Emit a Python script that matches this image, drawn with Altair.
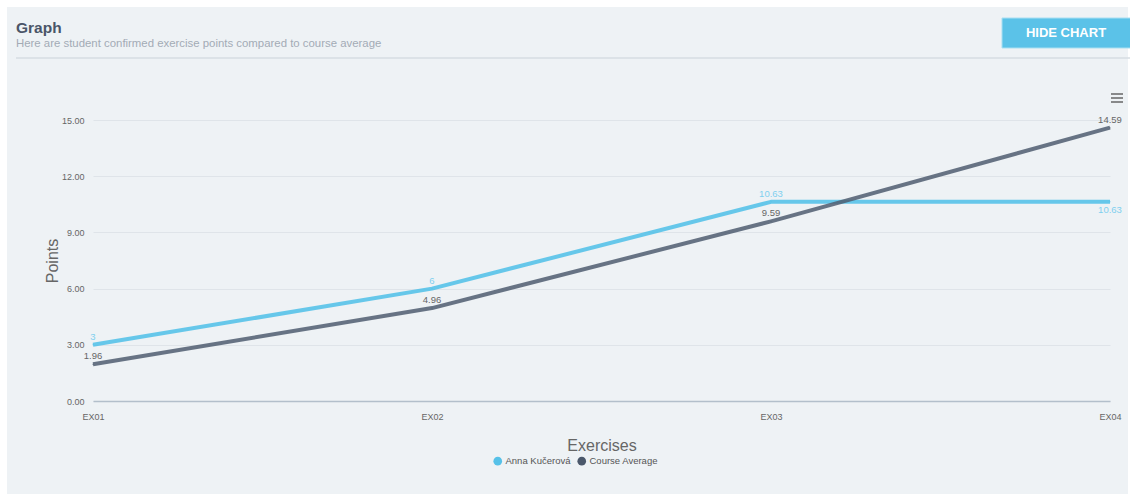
import altair as alt
import pandas as pd

# Exercise points per student vs. course average
exercises = ["EX01", "EX02", "EX03", "EX04"]
student_name = "Anna Kučerová"
student_points = [3, 6, 10.63, 10.63]
average_name = "Course Average"
average_points = [1.96, 4.96, 9.59, 14.59]
y_ticks = [0, 3, 6, 9, 12, 15]

rows = []
for name, values in [(student_name, student_points), (average_name, average_points)]:
    for ex, v in zip(exercises, values):
        rows.append({"series": name, "exercise": ex, "points": v, "label": f"{v:g}"})
df = pd.DataFrame(rows)

FONT = "Liberation Sans"
BG = "#eef2f5"
BLUE = "#4dbfe8"
SLATE = "#4f5d70"

series_domain = [student_name, average_name]

x_enc = alt.X(
    "exercise:N",
    sort=exercises,
    scale=alt.Scale(type="point", padding=0),
    axis=alt.Axis(
        title="Exercises",
        labelAngle=0,
        labelAlign="center",
        labelFontSize=9,
        labelColor="#666666",
        labelPadding=11,
        ticks=False,
        domain=True,
        domainColor="#b3bfcb",
        domainWidth=1.5,
        grid=False,
        titleFontSize=16,
        titleFontWeight="normal",
        titleColor="#666666",
        titlePadding=16,
    ),
)
y_enc = alt.Y(
    "points:Q",
    scale=alt.Scale(domain=[0, 15], nice=False),
    axis=alt.Axis(
        title="Points",
        values=y_ticks,
        format=".2f",
        labelFontSize=9,
        labelColor="#666666",
        labelPadding=9,
        ticks=False,
        domain=False,
        gridColor="#dfe4e9",
        titleFontSize=16,
        titleFontWeight="normal",
        titleColor="#666666",
        titlePadding=1,
    ),
)

base = alt.Chart(df)

# tiny dots on the data points that carry the filled-circle legend
legend_dots = base.mark_circle(size=1, opacity=1).encode(
    x=x_enc,
    y=y_enc,
    fill=alt.Fill(
        "series:N",
        sort=series_domain,
        scale=alt.Scale(domain=series_domain, range=["#56c1e8", "#4b586b"]),
        legend=alt.Legend(
            title=None,
            orient="none",
            direction="horizontal",
            legendX=400,
            legendY=336,
            symbolType="circle",
            symbolSize=75,
            symbolOpacity=1,
            symbolStrokeWidth=0,
            labelFontSize=9.5,
            labelColor="#555555",
            columnPadding=6,
            labelOffset=3,
        ),
    ),
)

lines = base.mark_line(strokeWidth=4, opacity=0.85, strokeJoin="round").encode(
    x="exercise:N",
    y="points:Q",
    color=alt.Color(
        "series:N",
        scale=alt.Scale(domain=series_domain, range=[BLUE, SLATE]),
        legend=None,
    ),
)

label_color = alt.condition(
    alt.datum.series == student_name, alt.value("#7fd0ef"), alt.value("#666666")
)
is_last_student = f"datum.series == '{student_name}' && datum.exercise == '{exercises[-1]}'"

labels_above = base.transform_filter(f"!({is_last_student})").mark_text(
    dy=-8, fontSize=9.5, font=FONT
).encode(x="exercise:N", y="points:Q", text="label:N", color=label_color)

labels_below = base.transform_filter(is_last_student).mark_text(
    dy=8, fontSize=9.5, font=FONT
).encode(x="exercise:N", y="points:Q", text="label:N", color=label_color)

one = pd.DataFrame({"k": [0]})
deco = alt.Chart(one)

# white page margins around the grey card
margins = [
    deco.mark_rect(color="white").encode(x=alt.value(-93), x2=alt.value(1037), y=alt.value(-120), y2=alt.value(-113)),
    deco.mark_rect(color="white").encode(x=alt.value(-93), x2=alt.value(-86), y=alt.value(-120), y2=alt.value(379)),
    deco.mark_rect(color="white").encode(x=alt.value(-93), x2=alt.value(1037), y=alt.value(374), y2=alt.value(379)),
    deco.mark_rect(color="white").encode(x=alt.value(1035), x2=alt.value(1037), y=alt.value(-120), y2=alt.value(379)),
]

title = deco.mark_text(
    text="Graph", align="left", baseline="alphabetic", fontSize=15.5, fontWeight="bold",
    color="#4a5568", font=FONT,
).encode(x=alt.value(-77), y=alt.value(-87))

subtitle = deco.mark_text(
    text="Here are student confirmed exercise points compared to course average",
    align="left", baseline="alphabetic", fontSize=11.4, color="#a3abb5", font=FONT,
).encode(x=alt.value(-77), y=alt.value(-73))

separator = deco.mark_rule(color="#d6dce2", strokeWidth=1.5).encode(
    x=alt.value(-77), x2=alt.value(1037), y=alt.value(-62)
)

button = deco.mark_rect(color="#5bc2e8", stroke="#a9dff2", strokeWidth=1).encode(
    x=alt.value(909), x2=alt.value(1040), y=alt.value(-102), y2=alt.value(-72)
)
button_text = deco.mark_text(
    text="HIDE CHART", align="center", baseline="middle", fontSize=13,
    fontWeight="bold", color="white", font=FONT,
).encode(x=alt.value(973), y=alt.value(-87))

menu = [
    deco.mark_rule(color="#666666", strokeWidth=1.5).encode(
        x=alt.value(1018), x2=alt.value(1030), y=alt.value(yy)
    )
    for yy in (-26, -22, -18)
]

chart = alt.layer(
    legend_dots, lines, labels_above, labels_below, *margins, title, subtitle,
    separator, button, button_text, *menu,
).properties(
    width=1017,
    height=281,
    padding={"left": 93, "top": 120, "right": 20, "bottom": 98},
    autosize=alt.AutoSizeParams(type="none"),
    background=BG,
).configure(
    font=FONT,
    view=alt.ViewConfig(stroke=None),
)

chart.save("out.html", embed_options={"renderer": "svg", "actions": False})
